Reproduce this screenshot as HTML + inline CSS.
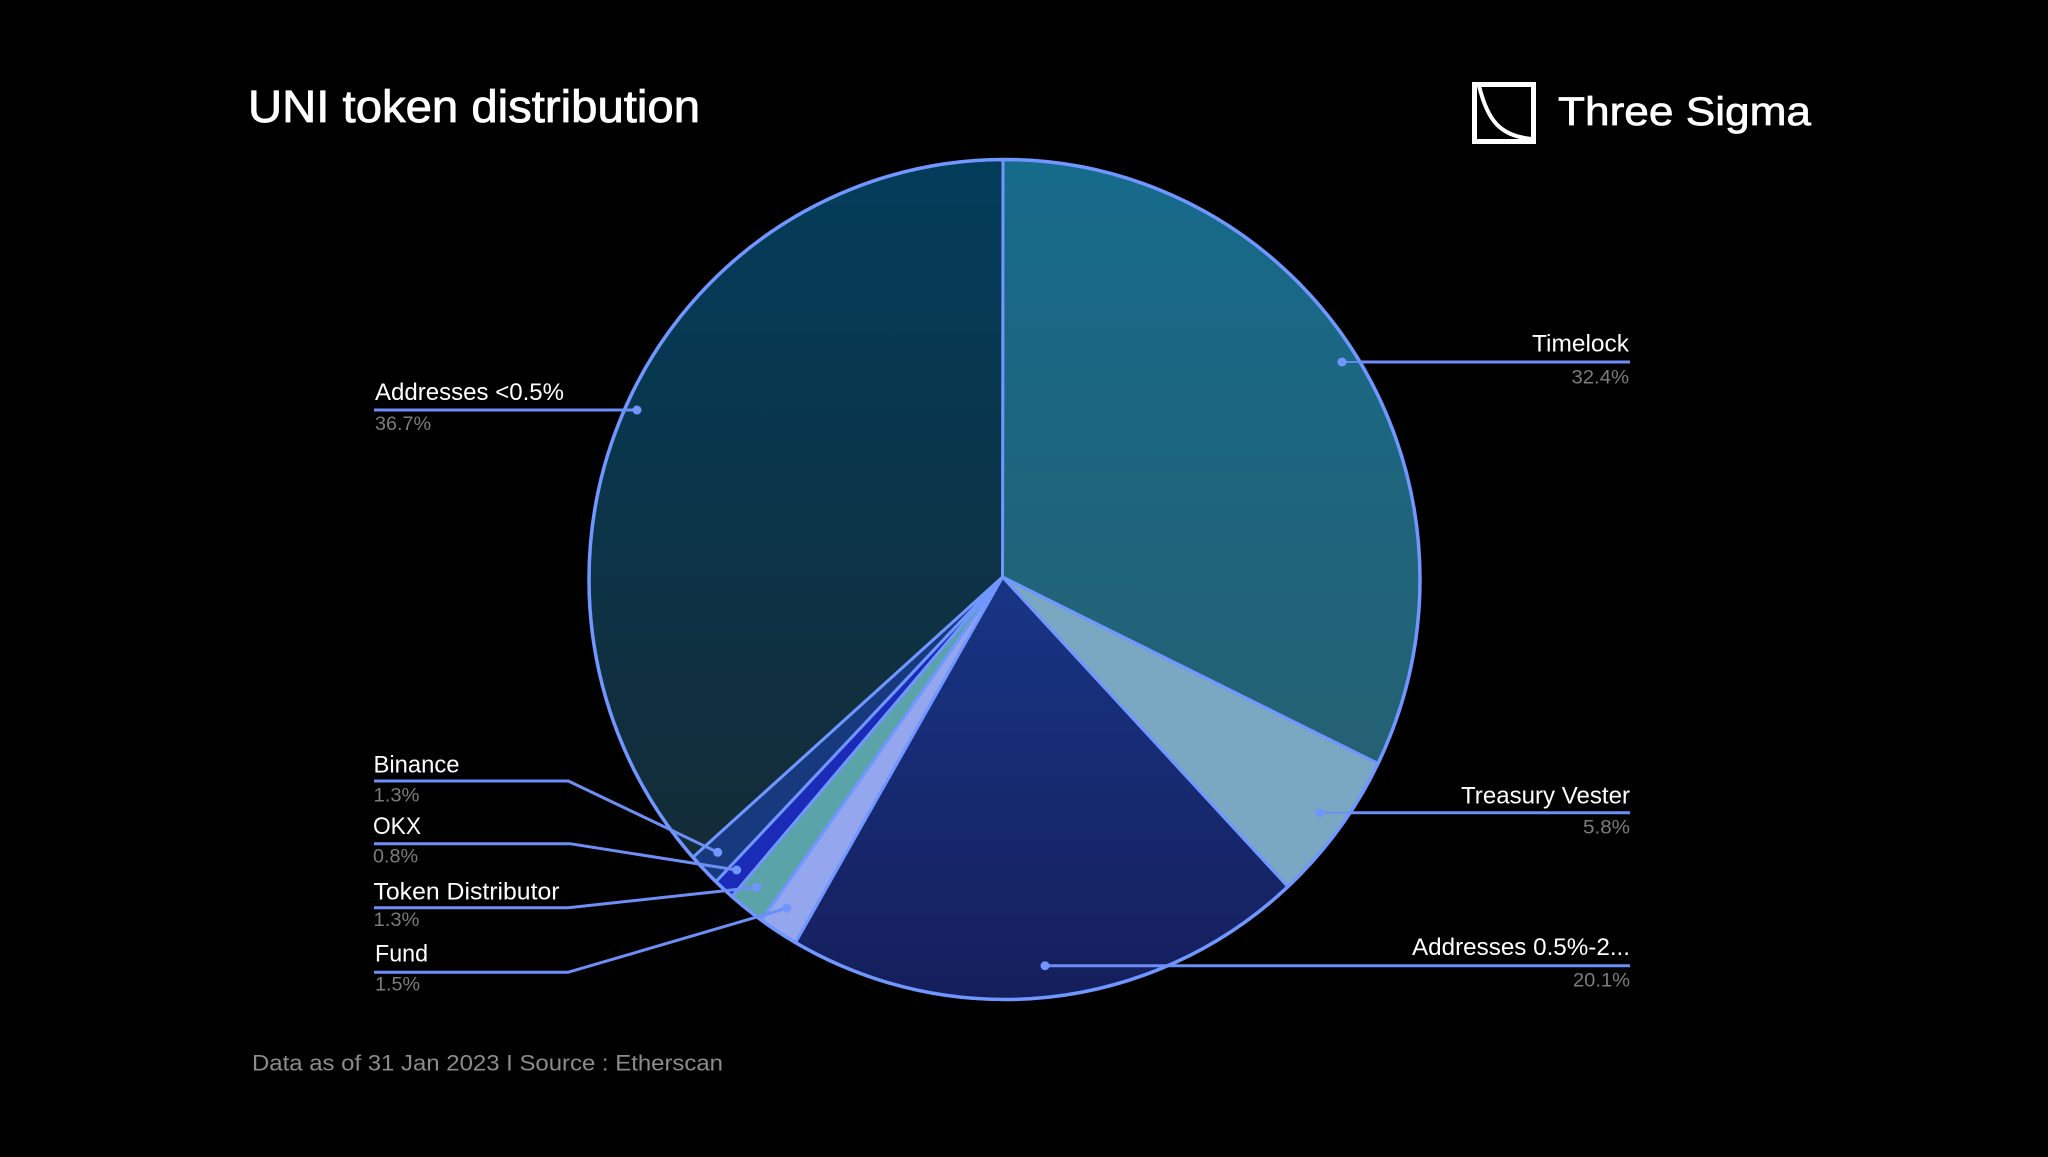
<!DOCTYPE html>
<html>
<head>
<meta charset="utf-8">
<style>
  html, body { margin: 0; padding: 0; background: #000; }
  svg { display: block; }
  text { font-family: "Liberation Sans", "DejaVu Sans", sans-serif; }
</style>
</head>
<body>
<svg width="2048" height="1157" viewBox="0 0 2048 1157" xmlns="http://www.w3.org/2000/svg">
  <defs>
    <linearGradient id="gTime" gradientUnits="userSpaceOnUse" x1="0" y1="159" x2="0" y2="1000">
      <stop offset="0" stop-color="#166a8b"/>
      <stop offset="1" stop-color="#2a5d69"/>
    </linearGradient>
    <linearGradient id="gLow" gradientUnits="userSpaceOnUse" x1="0" y1="159" x2="0" y2="1000">
      <stop offset="0" stop-color="#033d5b"/>
      <stop offset="1" stop-color="#172830"/>
    </linearGradient>
    <linearGradient id="gMid" gradientUnits="userSpaceOnUse" x1="0" y1="579" x2="0" y2="1000">
      <stop offset="0" stop-color="#183585"/>
      <stop offset="1" stop-color="#151e5b"/>
    </linearGradient>
  </defs>

  <rect x="0" y="0" width="2048" height="1157" fill="#000"/>

  <!-- Title -->
  <text x="248" y="122" font-size="45" fill="#ffffff" stroke="#ffffff" stroke-width="0.8" textLength="452" lengthAdjust="spacingAndGlyphs">UNI token distribution</text>

  <!-- Logo -->
  <rect x="1474.5" y="84.5" width="59" height="57" fill="none" stroke="#ffffff" stroke-width="5"/>
  <path d="M1479,86 C1488,120 1499,136 1532,139" fill="none" stroke="#ffffff" stroke-width="4"/>
  <text x="1558" y="125" font-size="40" fill="#ffffff" stroke="#ffffff" stroke-width="0.7" textLength="253" lengthAdjust="spacingAndGlyphs">Three Sigma</text>

  <!-- Pie slices -->
  <g stroke="#7096ff" stroke-width="3" stroke-linejoin="round">
    <!-- Timelock -->
    <path d="M1002.5,577 L1003,159.6 A415.5,420 0 0 1 1377.9,763.6 Z" fill="url(#gTime)"/>
    <!-- Treasury Vester -->
    <path d="M1002.5,577 L1377.9,763.6 A415.5,420 0 0 1 1287.9,886.7 Z" fill="#7aa8c2"/>
    <!-- Addresses 0.5%-2% -->
    <path d="M1002.5,577 L1287.9,886.7 A415.5,420 0 0 1 795.5,942.5 Z" fill="url(#gMid)"/>
    <!-- Fund -->
    <path d="M1002.5,577 L795.5,942.5 A415.5,420 0 0 1 761.45,920.1 Z" fill="#93a6ee"/>
    <!-- Token Distributor -->
    <path d="M1002.5,577 L761.45,920.1 A415.5,420 0 0 1 731.9,896.5 Z" fill="#5aa3a8"/>
    <!-- OKX -->
    <path d="M1002.5,577 L731.9,896.5 A415.5,420 0 0 1 715.9,881.6 Z" fill="#1a2bb8"/>
    <!-- Binance -->
    <path d="M1002.5,577 L715.9,881.6 A415.5,420 0 0 1 692.8,857.3 Z" fill="#173a7e"/>
    <!-- Addresses <0.5% -->
    <path d="M1002.5,577 L692.8,857.3 A415.5,420 0 0 1 1003,159.6 Z" fill="url(#gLow)"/>
  </g>
  <ellipse cx="1004.5" cy="579.5" rx="415.5" ry="420" fill="none" stroke="#7096ff" stroke-width="3.5"/>

  <!-- Leader lines -->
  <g stroke="#6d8ef7" stroke-width="3" fill="none">
    <line x1="1342" y1="362" x2="1360" y2="362" stroke-width="1.8"/>
    <line x1="1360" y1="362" x2="1630" y2="362"/>
    <line x1="1320" y1="812.7" x2="1350" y2="812.7" stroke-width="1.8"/>
    <line x1="1350" y1="812.7" x2="1630" y2="812.7"/>
    <line x1="1045" y1="965.7" x2="1630" y2="965.7"/>
    <line x1="374" y1="410" x2="637" y2="410"/>
    <polyline points="374,781 568.3,781 717.7,852.3"/>
    <polyline points="374,843.7 570,843.7 736.7,870"/>
    <polyline points="374,907.7 568.3,907.7 756.7,887.3"/>
    <polyline points="374,972.3 568,972.3 786.7,908.3"/>
  </g>
  <g fill="#7096ff">
    <circle cx="1342" cy="362" r="4.5"/>
    <circle cx="1320" cy="812.7" r="4.5"/>
    <circle cx="1045" cy="965.7" r="4.5"/>
    <circle cx="637" cy="410" r="4.5"/>
    <circle cx="717.7" cy="852.3" r="4.5"/>
    <circle cx="736.7" cy="870" r="4.5"/>
    <circle cx="756.7" cy="887.3" r="4.5"/>
    <circle cx="786.7" cy="908.3" r="4.5"/>
  </g>

  <!-- Right labels -->
  <g font-size="24" fill="#ffffff">
    <text x="1532" y="351.7" textLength="97" lengthAdjust="spacingAndGlyphs">Timelock</text>
    <text x="1461" y="803.3" textLength="169" lengthAdjust="spacingAndGlyphs">Treasury Vester</text>
    <text x="1412" y="955" textLength="218" lengthAdjust="spacingAndGlyphs">Addresses 0.5%-2...</text>
  </g>
  <g font-size="19" fill="#7c7c7c">
    <text x="1571.5" y="383.3" textLength="57.5" lengthAdjust="spacingAndGlyphs">32.4%</text>
    <text x="1583" y="833.3" textLength="47" lengthAdjust="spacingAndGlyphs">5.8%</text>
    <text x="1573" y="986.7" textLength="57" lengthAdjust="spacingAndGlyphs">20.1%</text>
  </g>

  <!-- Left labels -->
  <g font-size="24" fill="#ffffff">
    <text x="375" y="400" textLength="189" lengthAdjust="spacingAndGlyphs">Addresses &lt;0.5%</text>
    <text x="373.5" y="772.3" textLength="86" lengthAdjust="spacingAndGlyphs">Binance</text>
    <text x="373" y="834" textLength="48" lengthAdjust="spacingAndGlyphs">OKX</text>
    <text x="373.5" y="899.3" textLength="186" lengthAdjust="spacingAndGlyphs">Token Distributor</text>
    <text x="375" y="961.7" textLength="53" lengthAdjust="spacingAndGlyphs">Fund</text>
  </g>
  <g font-size="19" fill="#7c7c7c">
    <text x="375" y="430" textLength="56" lengthAdjust="spacingAndGlyphs">36.7%</text>
    <text x="373.5" y="801.7" textLength="46" lengthAdjust="spacingAndGlyphs">1.3%</text>
    <text x="373" y="862.7" textLength="45" lengthAdjust="spacingAndGlyphs">0.8%</text>
    <text x="373.5" y="926" textLength="46" lengthAdjust="spacingAndGlyphs">1.3%</text>
    <text x="375" y="990.7" textLength="45" lengthAdjust="spacingAndGlyphs">1.5%</text>
  </g>

  <!-- Footer -->
  <text x="252" y="1070.7" font-size="22" fill="#8c8c8c" textLength="471" lengthAdjust="spacingAndGlyphs">Data as of 31 Jan 2023 I Source : Etherscan</text>
</svg>
</body>
</html>
